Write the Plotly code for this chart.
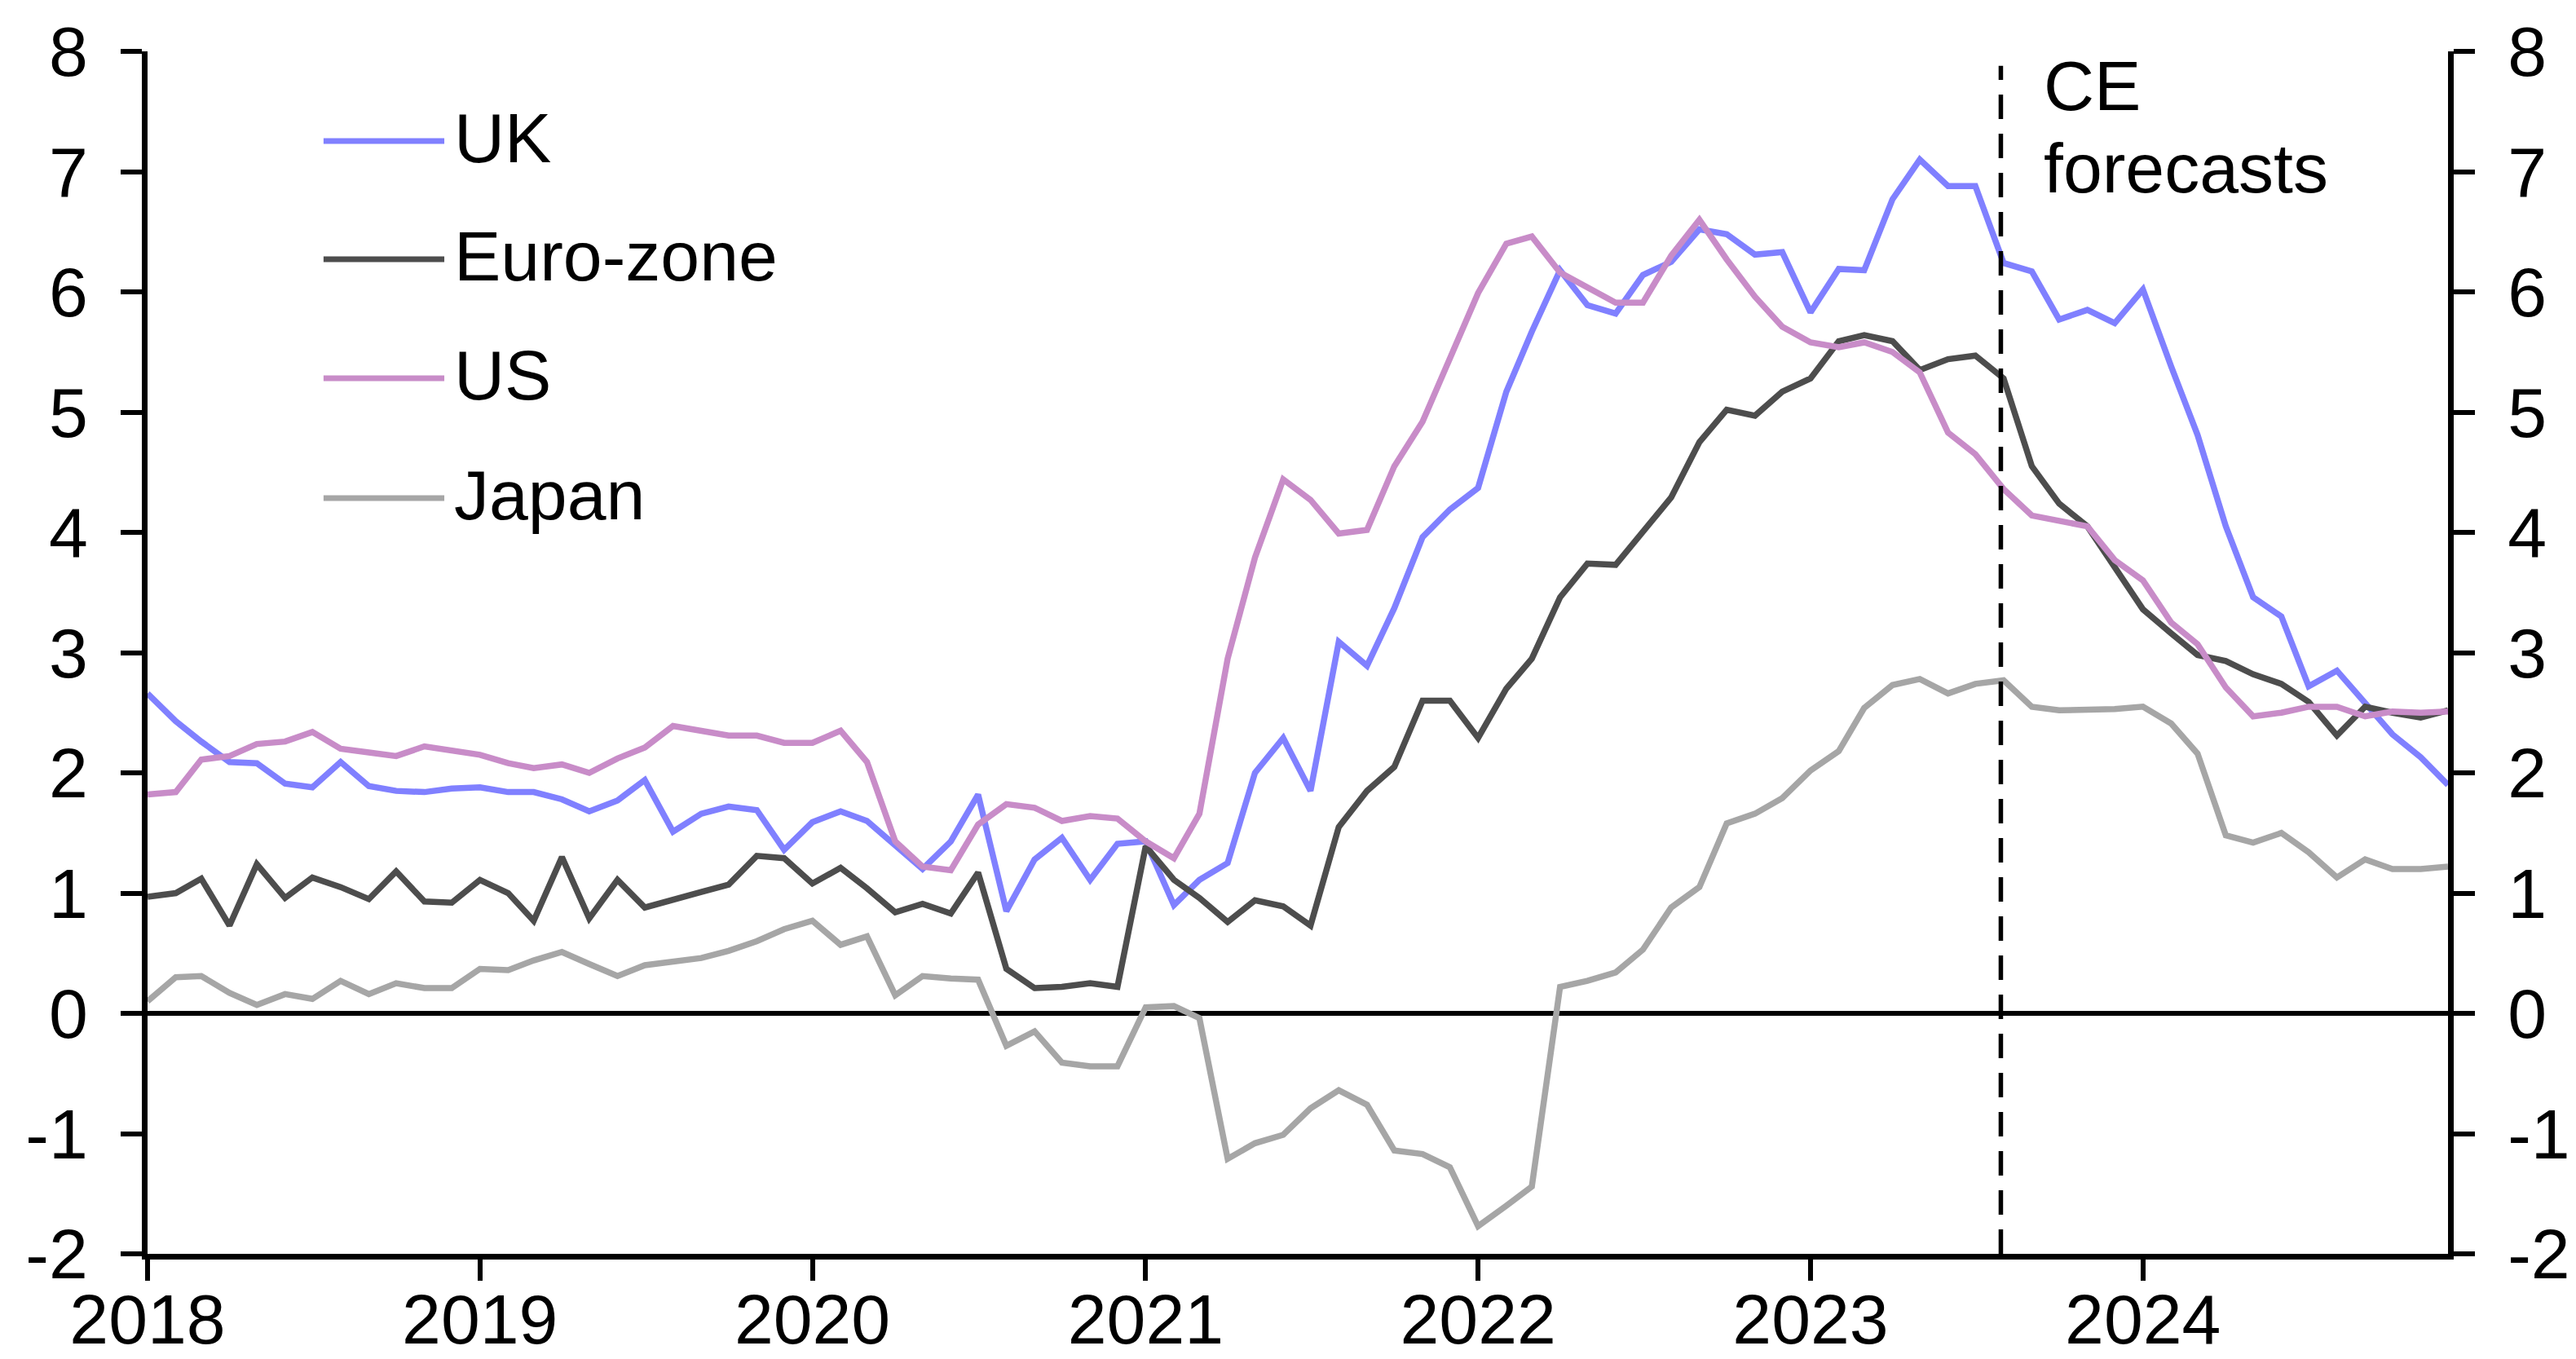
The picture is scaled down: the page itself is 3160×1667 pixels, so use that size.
import plotly.graph_objects as go
import pandas as pd

# Monthly inflation, Jan 2018 - Dec 2024 (forecasts from Aug 2023)
months = pd.date_range("2018-01-01", "2024-12-01", freq="MS")

uk = [
    2.66, 2.43, 2.26, 2.09, 2.08, 1.91, 1.88, 2.09, 1.89, 1.85, 1.84, 1.87,
    1.88, 1.84, 1.84, 1.78, 1.68, 1.77, 1.94, 1.51, 1.66, 1.72, 1.69, 1.36,
    1.59, 1.68, 1.60, 1.40, 1.20, 1.43, 1.82, 0.85, 1.28, 1.46, 1.11, 1.41,
    1.43, 0.90, 1.11, 1.25, 2.00, 2.29, 1.85, 3.09, 2.89, 3.37, 3.96, 4.19,
    4.37, 5.17, 5.67, 6.18, 5.89, 5.82, 6.14, 6.25, 6.52, 6.48, 6.31, 6.33,
    5.83, 6.19, 6.18, 6.77, 7.10, 6.88, 6.88, 6.24, 6.17, 5.77, 5.85, 5.74,
    6.02, 5.38, 4.81, 4.05, 3.46, 3.30, 2.72, 2.85, 2.58, 2.32, 2.13, 1.90,
]
euro_zone = [
    0.97, 1.00, 1.12, 0.73, 1.24, 0.96, 1.13, 1.05, 0.95, 1.18, 0.93, 0.92,
    1.11, 1.00, 0.77, 1.30, 0.79, 1.11, 0.88, 0.95, 1.01, 1.07, 1.31, 1.29,
    1.08, 1.21, 1.04, 0.84, 0.91, 0.83, 1.17, 0.37, 0.21, 0.22, 0.25, 0.22,
    1.39, 1.11, 0.96, 0.76, 0.94, 0.89, 0.73, 1.55, 1.85, 2.05, 2.60, 2.60,
    2.29, 2.70, 2.95, 3.46, 3.74, 3.73, 4.01, 4.29, 4.75, 5.02, 4.97, 5.17,
    5.28, 5.59, 5.64, 5.59, 5.35, 5.44, 5.47, 5.28, 4.55, 4.24, 4.05, 3.72,
    3.36, 3.16, 2.98, 2.93, 2.82, 2.74, 2.59, 2.31, 2.55, 2.50, 2.46, 2.52,
]
us = [
    1.82, 1.84, 2.11, 2.14, 2.24, 2.26, 2.34, 2.20, 2.17, 2.14, 2.22, 2.19,
    2.15, 2.08, 2.04, 2.07, 2.00, 2.12, 2.21, 2.39, 2.35, 2.31, 2.31, 2.25,
    2.25, 2.35, 2.09, 1.43, 1.22, 1.19, 1.57, 1.74, 1.71, 1.60, 1.64, 1.62,
    1.43, 1.29, 1.66, 2.95, 3.79, 4.44, 4.27, 3.99, 4.02, 4.55, 4.92, 5.45,
    5.99, 6.40, 6.46, 6.16, 6.03, 5.91, 5.91, 6.30, 6.60, 6.27, 5.96, 5.71,
    5.58, 5.54, 5.58, 5.50, 5.33, 4.83, 4.65, 4.36, 4.14, 4.10, 4.05, 3.77,
    3.60, 3.25, 3.07, 2.71, 2.47, 2.50, 2.55, 2.55, 2.47, 2.51, 2.50, 2.51,
]
japan = [
    0.10, 0.30, 0.31, 0.17, 0.07, 0.16, 0.12, 0.27, 0.16, 0.25, 0.21, 0.21,
    0.37, 0.36, 0.44, 0.51, 0.41, 0.31, 0.40, 0.43, 0.46, 0.52, 0.60, 0.70,
    0.77, 0.57, 0.64, 0.15, 0.31, 0.29, 0.28, -0.27, -0.15, -0.41, -0.44, -0.44,
    0.05, 0.06, -0.04, -1.21, -1.08, -1.01, -0.79, -0.64, -0.76, -1.14, -1.17, -1.28,
    -1.77, -1.60, -1.44, 0.22, 0.27, 0.34, 0.53, 0.88, 1.05, 1.58, 1.66, 1.79,
    2.02, 2.18, 2.54, 2.73, 2.78, 2.66, 2.74, 2.77, 2.55, 2.52, 2.52, 2.53,
    2.55, 2.41, 2.16, 1.48, 1.42, 1.50, 1.34, 1.13, 1.28, 1.20, 1.20, 1.22,
]

series_names = ["UK", "Euro-zone", "US", "Japan"]
series_values = [uk, euro_zone, us, japan]
series_colors = ["#8080FF", "#4D4D4D", "#C88CC8", "#A6A6A6"]

y_ticks = [8, 7, 6, 5, 4, 3, 2, 1, 0, -1, -2]
y_tick_labels = [str(v) for v in y_ticks]  # plain hyphen for negatives
forecast_start = "2023-07-29"

FONT = "Liberation Sans, Arial, sans-serif"
FS = 86

fig = go.Figure()
for name, vals, col in zip(series_names, series_values, series_colors):
    fig.add_trace(go.Scatter(
        x=months, y=vals, name=name, mode="lines",
        line=dict(color=col, width=7.5), showlegend=False,
    ))

# empty trace so the right-hand axis gets drawn
fig.add_trace(go.Scatter(x=[], y=[], yaxis="y2", showlegend=False, hoverinfo="skip"))

axis_common = dict(
    showgrid=False, showline=True, linecolor="black", linewidth=7,
    ticks="outside", ticklen=26, tickwidth=6, tickcolor="black",
    tickfont=dict(family=FONT, size=FS, color="black"),
    automargin=False,
)

fig.update_layout(
    width=3160, height=1667,
    margin=dict(l=181, r=157, t=63, b=129, pad=0),
    paper_bgcolor="white", plot_bgcolor="white",
    showlegend=False,
    xaxis=dict(
        **axis_common,
        type="date", range=["2018-01-01", "2024-12-01"],
        tick0="2018-01-01", dtick="M12", tickformat="%Y",
        zeroline=False, ticklabelstandoff=-26,
    ),
    yaxis=dict(
        **axis_common,
        range=[-2, 8], tickmode="array", tickvals=y_ticks, ticktext=y_tick_labels,
        zeroline=True, zerolinecolor="black", zerolinewidth=6,
        ticklabelstandoff=23,
    ),
    yaxis2=dict(
        **axis_common,
        overlaying="y", side="right", anchor="x",
        range=[-2, 8], tickmode="array", tickvals=y_ticks, ticktext=y_tick_labels,
        zeroline=False, ticklabelstandoff=23,
    ),
)

# Forecast divider
fig.add_shape(type="line", xref="x", yref="y",
              x0=forecast_start, x1=forecast_start, y0=-2, y1=7.88,
              line=dict(color="black", width=5.5, dash="30px,18px"))
fig.add_annotation(text="CE", xref="paper", yref="paper", x=0.8236, y=0.9712,
                   xanchor="left", yanchor="middle", showarrow=False,
                   font=dict(family=FONT, size=FS, color="black"))
fig.add_annotation(text="forecasts", xref="paper", yref="paper", x=0.8236, y=0.903,
                   xanchor="left", yanchor="middle", showarrow=False,
                   font=dict(family=FONT, size=FS, color="black"))

# Legend drawn as line keys with labels
legend_y = [0.9254, 0.8271, 0.7281, 0.6285]
for name, col, ly in zip(series_names, series_colors, legend_y):
    fig.add_shape(type="line", xref="paper", yref="paper",
                  x0=0.0765, x1=0.129, y0=ly, y1=ly,
                  line=dict(color=col, width=7))
    fig.add_annotation(text=name, xref="paper", yref="paper", x=0.1325, y=ly + 0.003,
                       xanchor="left", yanchor="middle", showarrow=False,
                       font=dict(family=FONT, size=FS, color="black"))

fig.write_html("out.html", config={"displayModeBar": False})
